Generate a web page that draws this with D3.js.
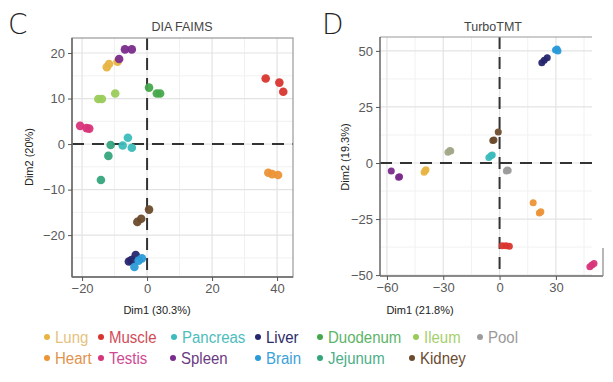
<!DOCTYPE html>
<html><head><meta charset="utf-8">
<script src="https://cdn.jsdelivr.net/npm/d3@7"></script>
<style>body{margin:0;background:#fff}svg{display:block}</style>
</head><body><svg id="c" width="613" height="382"></svg>
<script>
// ---- data ----
const tissues = ["Lung","Muscle","Pancreas","Liver","Duodenum","Ileum","Pool","Heart","Testis","Spleen","Brain","Jejunum","Kidney"];
const pointColors = ["#e8b443","#d9352e","#3cbcbc","#26266e","#45a84c","#9acb58","#9c9c9c","#ec9437","#d8357a","#7a2c8c","#2a9bd8","#35a57c","#6b4b2c"];
const textColors  = ["#e6c27e","#d14b58","#4dbdbd","#2b2a68","#5cb468","#a6cf6c","#9a9a9a","#e0924e","#cf4a93","#6b3b82","#3ba2d9","#4dae89","#6b4b30"];
const legendRow1 = ["Lung","Muscle","Pancreas","Liver","Duodenum","Ileum","Pool"];
const legendRow2 = ["Heart","Testis","Spleen","Brain","Jejunum","Kidney"];

const diaPoints = [
 ["Lung",-12.4,16.9],["Lung",-11.7,17.6],["Lung",-9.1,18.1],
 ["Spleen",-8.6,18.7],["Spleen",-6.8,20.8],["Spleen",-4.7,20.8],
 ["Ileum",-15.0,9.9],["Ileum",-13.9,9.9],["Ileum",-9.8,11.1],
 ["Duodenum",0.6,12.4],["Duodenum",3.0,11.1],["Duodenum",4.0,11.1],
 ["Muscle",36.5,14.4],["Muscle",40.7,13.5],["Muscle",41.9,11.5],
 ["Heart",37.3,-6.3],["Heart",38.5,-6.6],["Heart",40.3,-6.8],
 ["Testis",-20.6,4.0],["Testis",-18.6,3.5],["Testis",-17.8,3.4],
 ["Jejunum",-11.2,-0.2],["Jejunum",-11.9,-2.6],["Jejunum",-14.2,-7.9],
 ["Pancreas",-5.9,1.4],["Pancreas",-7.5,-0.3],["Pancreas",-4.7,-0.8],
 ["Kidney",0.6,-14.4],["Kidney",-3.0,-17.1],["Kidney",-1.8,-16.4],
 ["Liver",-5.6,-25.8],["Liver",-4.8,-25.5],["Liver",-3.5,-24.4],
 ["Brain",-1.6,-25.1],["Brain",-2.6,-25.6],["Brain",-3.9,-27.0]
];
const tmtPoints = [
 ["Liver",22.5,44.7],["Liver",23.8,45.8],["Liver",25.4,47.0],
 ["Brain",29.8,50.4],["Brain",30.6,50.8],["Brain",31.1,50.0],
 ["Kidney",-0.7,13.8],["Kidney",-3.6,10.0],["Kidney",-3.0,10.3],
 ["Ileum",-27.5,4.8],["Ileum",-26.5,5.6],["Ileum",-26.0,5.3],
 ["Pancreas",-5.7,2.5],["Pancreas",-4.6,3.2],["Pancreas",-3.9,3.6],
 ["Pool",4.1,-3.1],["Pool",4.6,-3.4],["Pool",3.6,-3.6],
 ["Spleen",-57.7,-3.6],["Spleen",-53.3,-6.1],["Spleen",-53.8,-6.4],
 ["Lung",-40.2,-4.1],["Lung",-39.6,-3.4],["Lung",-39.2,-3.0],
 ["Heart",17.9,-17.7],["Heart",21.2,-22.3],["Heart",22.0,-21.7],
 ["Muscle",1.4,-36.9],["Muscle",3.4,-36.9],["Muscle",5.2,-37.1],
 ["Testis",48.1,-46.3],["Testis",49.2,-45.5],["Testis",50.3,-44.8]
];
const diaXTicks = [-20,0,20,40], diaYTicks = [-20,-10,0,10,20];
const diaXMinor = [-10,10,30], diaYMinor = [-25,-15,-5,5,15];
const tmtXTicks = [-60,-30,0,30], tmtYTicks = [-50,-25,0,25,50];
const tmtXMinor = [-45,-15,15,45], tmtYMinor = [-37.5,-12.5,12.5,37.5];
// olive tone the TurboTMT panel uses for this group
const tmtColorOverride = {Ileum:"#a3a88a"};

// ---- drawing ----
const svg = d3.select("#c");
const pc = d3.scaleOrdinal(tissues, pointColors);
const tc = d3.scaleOrdinal(tissues, textColors);
const FONT = "'Liberation Sans', Arial, sans-serif";

function panel(o){
  const g = svg.append("g");
  const x = d3.scaleLinear().domain(o.xd).range([o.l, o.r]);
  const y = d3.scaleLinear().domain(o.yd).range([o.b, o.t]);
  g.selectAll(".mx").data(o.xMinor).join("line").attr("x1",d=>x(d)).attr("x2",d=>x(d)).attr("y1",o.t).attr("y2",o.b).attr("stroke","#f1f1f1").attr("stroke-width",1);
  g.selectAll(".my").data(o.yMinor).join("line").attr("y1",d=>y(d)).attr("y2",d=>y(d)).attr("x1",o.l).attr("x2",o.gridR).attr("stroke","#f1f1f1").attr("stroke-width",1);
  g.selectAll(".gx").data(o.xTicks).join("line").attr("x1",d=>x(d)).attr("x2",d=>x(d)).attr("y1",o.t).attr("y2",o.b).attr("stroke","#e3e3e3").attr("stroke-width",1.2);
  g.selectAll(".gy").data(o.yTicks).join("line").attr("y1",d=>y(d)).attr("y2",d=>y(d)).attr("x1",o.l).attr("x2",o.gridR).attr("stroke","#e3e3e3").attr("stroke-width",1.2);
  g.append("line").attr("x1",x(0)).attr("x2",x(0)).attr("y1",o.t).attr("y2",o.b).attr("stroke","#333").attr("stroke-width",2).attr("stroke-dasharray","12,8");
  g.append("line").attr("y1",y(0)).attr("y2",y(0)).attr("x1",o.l).attr("x2",o.gridR).attr("stroke","#333").attr("stroke-width",2).attr("stroke-dasharray","12,8");
  g.selectAll(".pt").data(o.points).join("circle")
    .attr("cx",d=>x(d[1])).attr("cy",d=>y(d[2])).attr("r",o.rad)
    .attr("fill",d=>(o.override&&o.override[d[0]])||pc(d[0])).attr("opacity",0.95);
  o.frame(g, x, y);
  const ax = g.append("g").attr("transform",`translate(0,${o.b})`)
    .call(d3.axisBottom(x).tickValues(o.xTicks).tickSize(4).tickPadding(3).tickFormat(d3.format("d")));
  const ay = g.append("g").attr("transform",`translate(${o.l},0)`)
    .call(d3.axisLeft(y).tickValues(o.yTicks).tickSize(4).tickPadding(3).tickFormat(d3.format("d")));
  [ax,ay].forEach(a=>{
    a.select(".domain").remove();
    a.selectAll("line").attr("stroke","#555");
    a.selectAll("text").attr("fill","#5a5a5a").style("font-family",FONT).style("font-size","13px");
  });
  g.append("text").attr("x",o.titleX).attr("y",31).attr("text-anchor","middle").attr("fill","#444")
    .style("font-family",FONT).style("font-size","12.5px").text(o.title);
  g.append("text").attr("x",o.letterX).attr("y",34).attr("fill","#222")
    .style("font-family","'DejaVu Sans', sans-serif").style("font-weight","300").style("font-size","28px").text(o.letter);
  g.append("text").attr("x",o.xLabX).attr("y",314).attr("text-anchor","middle").attr("fill","#222")
    .style("font-family",FONT).style("font-size","11px").text(o.xLab);
  g.append("text").attr("transform",`translate(${o.yLabX},157) rotate(-90)`).attr("text-anchor","middle").attr("fill","#222")
    .style("font-family",FONT).style("font-size","11px").text(o.yLab);
}

panel({
  l:72, r:293, t:38, b:277, gridR:293,
  xd:[-23.1,44.9], yd:[-29.2,23.3],
  xTicks:diaXTicks, yTicks:diaYTicks, xMinor:diaXMinor, yMinor:diaYMinor,
  points:diaPoints, rad:4.3,
  title:"DIA FAIMS", titleX:182, letter:"C", letterX:8,
  xLab:"Dim1 (30.3%)", xLabX:157, yLab:"Dim2 (20%)", yLabX:33,
  frame:(g)=>{
    g.append("rect").attr("x",72).attr("y",38).attr("width",221).attr("height",239).attr("fill","none").attr("stroke","#999").attr("stroke-width",1.2);
    g.append("line").attr("x1",72).attr("x2",72).attr("y1",38).attr("y2",277).attr("stroke","#666").attr("stroke-width",1.5);
    g.append("line").attr("x1",72).attr("x2",293).attr("y1",277).attr("y2",277).attr("stroke","#666").attr("stroke-width",1.5);
  }
});

panel({
  l:380, r:603, t:37, b:276, gridR:592,
  xd:[-63.7,55.1], yd:[-50.4,56.2],
  xTicks:tmtXTicks, yTicks:tmtYTicks, xMinor:tmtXMinor, yMinor:tmtYMinor,
  points:tmtPoints, rad:3.5, override:tmtColorOverride,
  title:"TurboTMT", titleX:493, letter:"D", letterX:322,
  xLab:"Dim1 (21.8%)", xLabX:420, yLab:"Dim2 (19.3%)", yLabX:349,
  frame:(g)=>{
    g.append("line").attr("x1",380).attr("x2",592).attr("y1",37).attr("y2",37).attr("stroke","#999").attr("stroke-width",1.2);
    g.append("line").attr("x1",380).attr("x2",380).attr("y1",37).attr("y2",276).attr("stroke","#666").attr("stroke-width",1.5);
    g.append("line").attr("x1",380).attr("x2",603).attr("y1",276).attr("y2",276).attr("stroke","#666").attr("stroke-width",1.5);
    g.append("line").attr("x1",603).attr("x2",603).attr("y1",248).attr("y2",276).attr("stroke","#888").attr("stroke-width",1.2);
  }
});

const colX = [47,101,174,258,320,416,480];
function legendRow(names, cy, cols){
  const g = svg.append("g");
  const it = g.selectAll("g").data(names).join("g").attr("transform",(d,i)=>`translate(${cols[i]},${cy})`);
  it.append("circle").attr("r",3).attr("fill",d=>pc(d));
  it.append("text").attr("x",8).attr("y",5.5).attr("fill",d=>tc(d))
    .attr("transform","scale(1,1.08)")
    .style("font-family",FONT).style("font-size","15px").text(d=>d);
}
legendRow(legendRow1, 337, colX);
legendRow(legendRow2, 358, [47,101,173,258,320,412]);
</script></body></html>
